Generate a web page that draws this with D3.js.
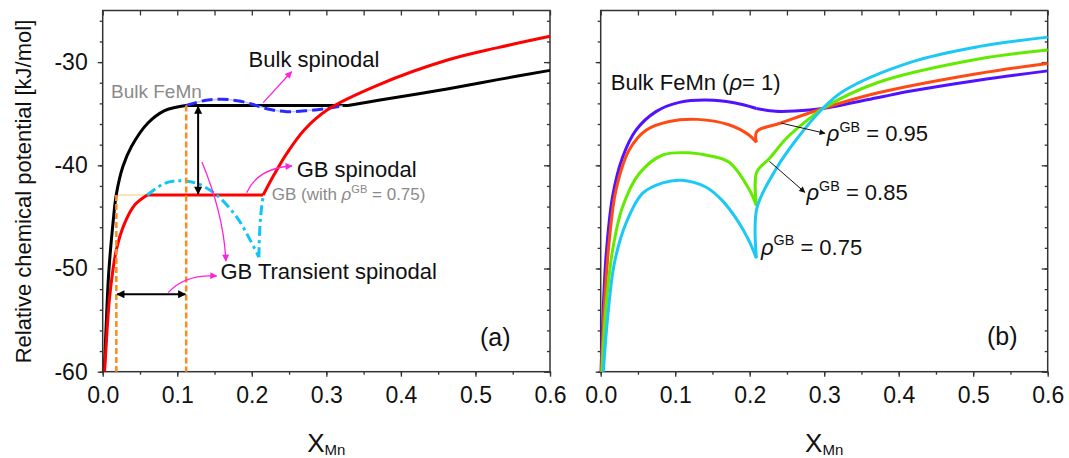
<!DOCTYPE html>
<html>
<head>
<meta charset="utf-8">
<script src="https://cdn.jsdelivr.net/npm/d3@7"></script>
<style>
  body { margin: 0; background: #fff; }
  text { font-family: "Liberation Sans", Arial, sans-serif; }
</style>
</head>
<body>
<div id="chart"></div>
<script>
// ---- axis ticks ----
var xTicks = [0, 0.1, 0.2, 0.3, 0.4, 0.5, 0.6];
var xTickLabels = ["0.0", "0.1", "0.2", "0.3", "0.4", "0.5", "0.6"];
var yTicks = [-60, -50, -40, -30];
var yTickLabels = ["-60", "-50", "-40", "-30"];

// ---- panel (a) : bulk FeMn (black, with common tangent) ----
var bulkLeftX = [0.0022, 0.0048, 0.008, 0.0138, 0.0183, 0.0272, 0.0384, 0.0607, 0.083, 0.1, 0.112];
var bulkLeftY = [-60, -55.3, -50.5, -45.6, -42.8, -40.1, -38.2, -35.9, -34.7, -34.35, -34.2];
var bulkTieX = [0.112, 0.329];
var bulkTieY = [-34.2, -34.2];
var bulkRightX = [0.329, 0.37, 0.462, 0.53, 0.6];
var bulkRightY = [-34.2, -33.7, -32.6, -31.7, -30.8];
// bulk spinodal (blue dashed)
var bulkSpinX = [0.112, 0.135, 0.16, 0.185, 0.206, 0.225, 0.247, 0.275, 0.3, 0.322];
var bulkSpinY = [-34.2, -33.75, -33.6, -33.8, -34.2, -34.6, -34.8, -34.7, -34.5, -34.25];

// ---- panel (a) : GB rho=0.75 (red, with common tangent) ----
var gbLeftX = [0.0025, 0.0048, 0.0094, 0.0183, 0.0295, 0.0429, 0.0598];
var gbLeftY = [-60, -57.25, -52.7, -48.2, -45.6, -43.85, -42.88];
var gbTieX = [0.0598, 0.2153];
var gbTieY = [-42.88, -42.88];
var gbRightX = [0.2153, 0.23, 0.2466, 0.27, 0.302, 0.37, 0.4625, 0.53, 0.6];
var gbRightY = [-42.88, -40.9, -38.9, -36.6, -34.6, -32.2, -29.8, -28.6, -27.5];
// GB transient spinodal (cyan dash-dot)
var gbSpinX = [0.0598, 0.083, 0.1045, 0.128, 0.1528, 0.1796, 0.1975, 0.2095];
var gbSpinY = [-42.88, -41.75, -41.5, -41.8, -42.88, -45.0, -47.2, -48.9];
var gbJumpX = [0.2095, 0.2105, 0.2125, 0.2153];
var gbJumpY = [-48.9, -46.5, -44.5, -42.88];

// ---- panel (b) ----
var rho1LeftX = [0.0005, 0.0027, 0.0071, 0.016, 0.0295, 0.0474, 0.0742, 0.1055, 0.1517, 0.19, 0.209];
var rho1LeftY = [-60, -55.3, -48.9, -43.0, -39.2, -36.6, -34.8, -33.9, -33.69, -34.1, -34.5];
var rho1RightX = [0.209, 0.235, 0.26, 0.298, 0.371, 0.4166, 0.507, 0.6];
var rho1RightY = [-34.5, -34.77, -34.75, -34.5, -33.46, -32.81, -31.76, -30.85];

var rho95LeftX = [0.001, 0.0049, 0.0116, 0.0205, 0.0384, 0.0608, 0.092, 0.13, 0.172, 0.199, 0.209];
var rho95LeftY = [-60, -53.7, -47.2, -42.4, -38.5, -36.6, -35.75, -35.55, -36.07, -37.06, -37.78];
var rho95RightX = [0.209, 0.2095, 0.242, 0.298, 0.371, 0.507, 0.6];
var rho95RightY = [-37.78, -36.73, -35.9, -34.5, -33.0, -31.1, -30.13];

var rho85LeftX = [0.0017, 0.0071, 0.016, 0.0295, 0.0518, 0.0832, 0.122, 0.141, 0.172, 0.199, 0.209];
var rho85LeftY = [-60, -53.7, -48.2, -44.0, -40.8, -39.0, -38.8, -39.0, -39.68, -42.3, -43.92];
var rho85RightX = [0.209, 0.2095, 0.2264, 0.249, 0.2808, 0.298, 0.371, 0.507, 0.6];
var rho85RightY = [-43.92, -40.65, -39.35, -37.4, -35.43, -34.5, -32.0, -29.7, -28.82];

var rho75LeftX = [0.0035, 0.0094, 0.0183, 0.034, 0.0564, 0.0832, 0.108, 0.141, 0.163, 0.185, 0.199, 0.209];
var rho75LeftY = [-60, -54.7, -49.5, -45.6, -42.7, -41.7, -41.45, -42.1, -43.4, -45.5, -47.3, -49.0];
var rho75RightX = [0.209, 0.2095, 0.2356, 0.2627, 0.298, 0.326, 0.4166, 0.507, 0.6];
var rho75RightY = [-49.0, -44.2, -40.33, -37.5, -34.5, -32.8, -30.0, -28.5, -27.58];

function zip(xs, ys) {
    return xs.map(function(d, i) { return [d, ys[i]]; });
}

function init() {
    var w = 1069, h = 458;
    var yTop = 10.5, yBot = 371.7;

    var svg = d3.select("#chart")
                .append("svg")
                .attr("width", w)
                .attr("height", h);

    var defs = svg.append("defs");
    function marker(id, color, len, wid) {
        defs.append("marker")
            .attr("id", id)
            .attr("viewBox", "0 0 10 10")
            .attr("refX", 9).attr("refY", 5)
            .attr("markerWidth", len).attr("markerHeight", wid)
            .attr("markerUnits", "userSpaceOnUse")
            .attr("orient", "auto-start-reverse")
            .append("path")
            .attr("d", "M0,0L10,5L0,10z")
            .attr("fill", color);
    }
    marker("arrBlack", "#000", 12, 8);
    marker("arrPink", "#ff22dd", 10, 7);
    marker("arrThin", "#111", 9, 6);

    var y = d3.scaleLinear().domain([-60, -25]).range([yBot, yTop]);
    var xa = d3.scaleLinear().domain([0, 0.6]).range([102.7, 550]);
    var xb = d3.scaleLinear().domain([0, 0.6]).range([600.7, 1047.7]);

    var xMinor = d3.range(0, 0.601, 0.05);
    var yMinor = d3.range(-60, -25, 2);

    function frame(x, withLabels) {
        var g = svg.append("g");
        var x0 = x.range()[0], x1 = x.range()[1];

        g.append("g").attr("transform", "translate(0," + yBot + ")")
         .call(d3.axisBottom(x).tickValues(xMinor).tickSize(3).tickFormat(""));
        g.append("g").attr("transform", "translate(0," + yBot + ")")
         .call(d3.axisBottom(x).tickValues(xTicks).tickSize(5).tickPadding(10)
               .tickFormat(function(d, i) { return xTickLabels[i]; }));
        g.append("g").attr("transform", "translate(0," + yTop + ")")
         .call(d3.axisTop(x).tickValues(xMinor).tickSize(-5).tickFormat(""));

        g.append("g").attr("transform", "translate(" + x0 + ",0)")
         .call(d3.axisLeft(y).tickValues(yMinor).tickSize(3).tickFormat(""));
        g.append("g").attr("transform", "translate(" + x0 + ",0)")
         .call(d3.axisLeft(y).tickValues(yTicks).tickSize(5).tickPadding(10)
               .tickFormat(function(d, i) { return withLabels ? yTickLabels[i] : ""; }));
        g.append("g").attr("transform", "translate(" + x1 + ",0)")
         .call(d3.axisRight(y).tickValues(yMinor).tickSize(-3).tickFormat(""));
        g.append("g").attr("transform", "translate(" + x1 + ",0)")
         .call(d3.axisRight(y).tickValues(yTicks).tickSize(-6).tickFormat(""));

        g.selectAll(".domain").remove();
        g.selectAll(".tick line").attr("stroke", "#333").attr("stroke-width", 1.3);
        g.selectAll(".tick text").attr("font-size", 23).attr("fill", "#111")
         .attr("font-family", "Liberation Sans, Arial, sans-serif");

        g.append("rect")
         .attr("x", x0).attr("y", yTop)
         .attr("width", x1 - x0).attr("height", yBot - yTop)
         .attr("fill", "none").attr("stroke", "#333").attr("stroke-width", 1.5);

        var cx = (x0 + x1) / 2;
        var t = svg.append("text").attr("x", cx).attr("y", 452)
                   .attr("text-anchor", "middle").attr("fill", "#111");
        t.append("tspan").attr("font-size", 26).text("X");
        t.append("tspan").attr("font-size", 15).attr("dy", 3).text("Mn");
    }

    frame(xa, true);
    frame(xb, false);

    svg.append("text")
       .attr("transform", "translate(30.5,191.5) rotate(-90)")
       .attr("text-anchor", "middle").attr("font-size", 22).attr("fill", "#111")
       .text("Relative chemical potential [kJ/mol]");

    function line(x) {
        return d3.line()
                 .x(function(d) { return x(d[0]); })
                 .y(function(d) { return y(d[1]); })
                 .curve(d3.curveCatmullRom.alpha(0.5));
    }
    var la = line(xa), lb = line(xb);

    function path(gen, data, color, width, dash) {
        var p = svg.append("path")
                   .attr("d", gen(data))
                   .attr("fill", "none")
                   .attr("stroke", color)
                   .attr("stroke-width", width)
                   .attr("stroke-linejoin", "round");
        if (dash) p.attr("stroke-dasharray", dash);
        return p;
    }

    // ---------- panel (a) ----------
    var straight = d3.line().x(function(d) { return xa(d[0]); }).y(function(d) { return y(d[1]); });
    path(straight, [[0.0183, -42.88], [0.0598, -42.88]], "#ffe2b8", 2);

    path(la, zip(bulkLeftX, bulkLeftY), "#000", 3);
    path(la, zip(bulkTieX, bulkTieY), "#000", 3);
    path(la, zip(bulkRightX, bulkRightY), "#000", 3);
    path(la, zip(bulkSpinX, bulkSpinY), "#c4c4ff", 1.5);
    path(la, zip(bulkSpinX, bulkSpinY), "#2a2aff", 3, "11,5");

    path(la, zip(gbLeftX, gbLeftY), "#ff0000", 3);
    path(la, zip(gbTieX, gbTieY), "#ff0000", 3);
    path(la, zip(gbRightX, gbRightY), "#ff0000", 3);
    path(la, zip(gbSpinX, gbSpinY), "#10c4f4", 3, "10,4,3,4");
    path(la, zip(gbJumpX, gbJumpY), "#10c4f4", 3, "10,4,3,4");

    // orange dashed verticals
    path(straight, [[0.0183, -42.88], [0.0183, -60]], "#ff8a1c", 2.5, "6,3");
    path(straight, [[0.112, -34.2], [0.112, -60]], "#ff8a1c", 2.5, "6,3");

    // black double arrows
    path(straight, [[0.128, -34.3], [0.128, -42.78]], "#000", 2)
        .attr("marker-start", "url(#arrBlack)").attr("marker-end", "url(#arrBlack)");
    path(straight, [[0.0195, -52.5], [0.1108, -52.5]], "#000", 2)
        .attr("marker-start", "url(#arrBlack)").attr("marker-end", "url(#arrBlack)");

    // pointers
    function curve(x, pts) {
        var p = pts.map(function(d) { return [x(d[0]), y(d[1])]; });
        var d = "M" + p[0];
        if (p.length === 3) d += "Q" + p[1] + " " + p[2];
        else d += "L" + p[1];
        return d;
    }
    function pointer(x, pts, color, width, mk) {
        svg.append("path").attr("d", curve(x, pts))
           .attr("fill", "none").attr("stroke", color).attr("stroke-width", width)
           .attr("marker-end", "url(#" + mk + ")");
    }
    pointer(xa, [[0.2153, -33.93], [0.2533, -30.93]], "#ff22dd", 1.3, "arrPink");
    pointer(xa, [[0.1931, -42.65], [0.2082, -40.26], [0.2538, -40.07]], "#ff22dd", 1.3, "arrPink");
    pointer(xa, [[0.1331, -39.68], [0.1625, -44.82], [0.1652, -49.27]], "#ff22dd", 1.3, "arrPink");
    pointer(xa, [[0.0879, -52.34], [0.1103, -50.53], [0.1528, -50.73]], "#ff22dd", 1.3, "arrPink");

    // ---------- panel (b) ----------
    var bColors = { r1: "#5012ff", r95: "#ff4a14", r85: "#62ea00", r75: "#1cc8f6" };
    path(lb, zip(rho1LeftX, rho1LeftY), bColors.r1, 3);
    path(lb, zip(rho1RightX, rho1RightY), bColors.r1, 3);
    path(lb, zip(rho95LeftX, rho95LeftY), bColors.r95, 3);
    path(lb, zip(rho95RightX, rho95RightY), bColors.r95, 3);
    path(lb, zip(rho85LeftX, rho85LeftY), bColors.r85, 3);
    path(lb, zip(rho85RightX, rho85RightY), bColors.r85, 3);
    path(lb, zip(rho75LeftX, rho75LeftY), bColors.r75, 3);
    path(lb, zip(rho75RightX, rho75RightY), bColors.r75, 3);

    pointer(xb, [[0.2423, -35.91], [0.301, -36.9]], "#111", 1, "arrThin");
    pointer(xb, [[0.2264, -39.61], [0.274, -42.62]], "#111", 1, "arrThin");

    // ---------- text ----------
    function label(x, yy, parts, size, color) {
        var t = svg.append("text").attr("x", x).attr("y", yy)
                   .attr("font-size", size).attr("fill", color || "#111");
        var up = 0;
        parts.forEach(function(p) {
            var s = t.append("tspan").text(p.t);
            if (p.i) s.attr("font-style", "italic");
            if (p.sup) {
                s.attr("font-size", size * 0.65).attr("dy", -size * 0.42);
                up = size * 0.42;
            } else if (up) {
                s.attr("dy", up);
                up = 0;
            }
        });
        return t;
    }

    label(248.6, 67, [{ t: "Bulk spinodal" }], 22);
    label(111, 97.5, [{ t: "Bulk FeMn" }], 19, "#8a8a8a");
    label(296.7, 177, [{ t: "GB spinodal" }], 22);
    label(271.7, 200, [{ t: "GB (with " }, { t: "ρ", i: true }, { t: "GB", sup: true }, { t: " = 0.75)" }], 17, "#8a8a8a");
    label(220.4, 279, [{ t: "GB Transient spinodal" }], 22);
    label(480, 346, [{ t: "(a)" }], 25);

    label(610.8, 90, [{ t: "Bulk FeMn (" }, { t: "ρ", i: true }, { t: "= 1)" }], 22);
    label(826.8, 141, [{ t: "ρ", i: true }, { t: "GB", sup: true }, { t: " = 0.95" }], 22);
    label(806.5, 200, [{ t: "ρ", i: true }, { t: "GB", sup: true }, { t: " = 0.85" }], 22);
    label(761, 254.7, [{ t: "ρ", i: true }, { t: "GB", sup: true }, { t: " = 0.75" }], 22);
    label(987, 345, [{ t: "(b)" }], 25);
}
window.onload = init;
</script>
</body>
</html>
